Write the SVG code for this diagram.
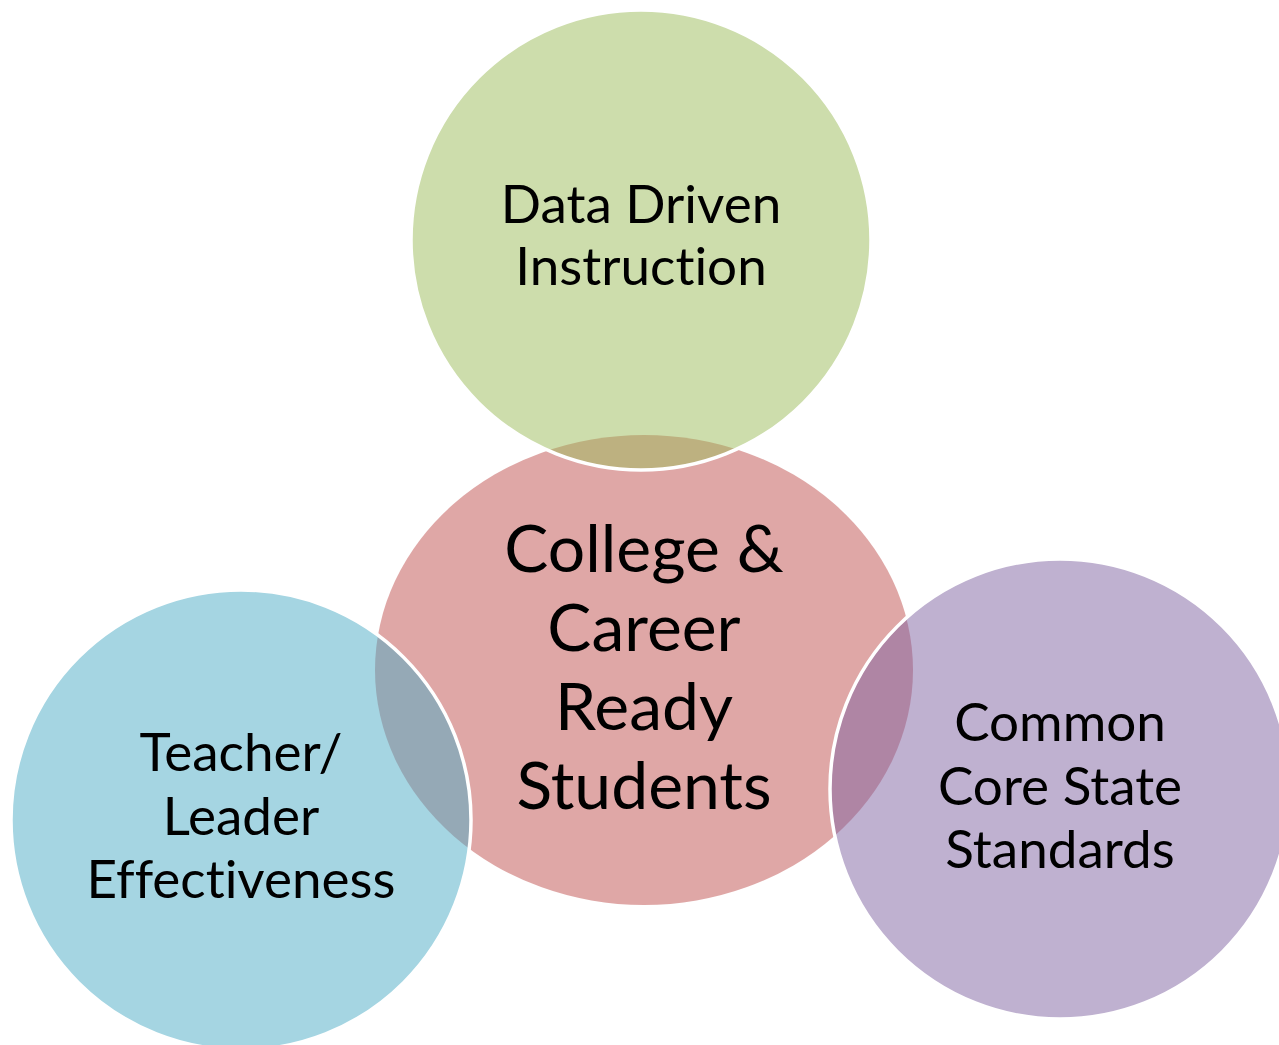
<svg xmlns="http://www.w3.org/2000/svg" width="1279" height="1045" viewBox="0 0 1279 1045">
<style>
.c{fill-opacity:0.5}
.o{stroke:#fff;stroke-width:3.5}
.t{font-family:Lato,"Open Sans","Liberation Sans",sans-serif;fill:#000;text-anchor:middle;font-variant-ligatures:none;font-feature-settings:"liga" 0,"clig" 0}
.s{font-size:53px}
.b{font-size:66px}
</style>
<rect width="1279" height="1045" fill="#fff"/>
<g id="center">
<ellipse class="c" cx="644" cy="670" rx="269" ry="235" fill="#C0504D"/>
<text class="t b"><tspan x="644" y="572">College &amp;</tspan><tspan x="644" y="651">Career</tspan><tspan x="644" y="730">Ready</tspan><tspan x="644" y="809">Students</tspan></text>
</g>
<g id="data">
<circle class="c o" cx="641" cy="240" r="230" fill="#9BBB59"/>
<text class="t s"><tspan x="641" y="223">Data Driven</tspan><tspan x="641" y="285">Instruction</tspan></text>
</g>
<g id="teacher">
<circle class="c o" cx="241" cy="820" r="230" fill="#4BACC6"/>
<text class="t s"><tspan x="241" y="771">Teacher/</tspan><tspan x="241" y="835">Leader</tspan><tspan x="241" y="898">Effectiveness</tspan></text>
</g>
<g id="common">
<circle class="c o" cx="1060" cy="789" r="230" fill="#8064A2"/>
<text class="t s"><tspan x="1060" y="741">Common</tspan><tspan x="1060" y="805">Core State</tspan><tspan x="1060" y="868">Standards</tspan></text>
</g>
</svg>
